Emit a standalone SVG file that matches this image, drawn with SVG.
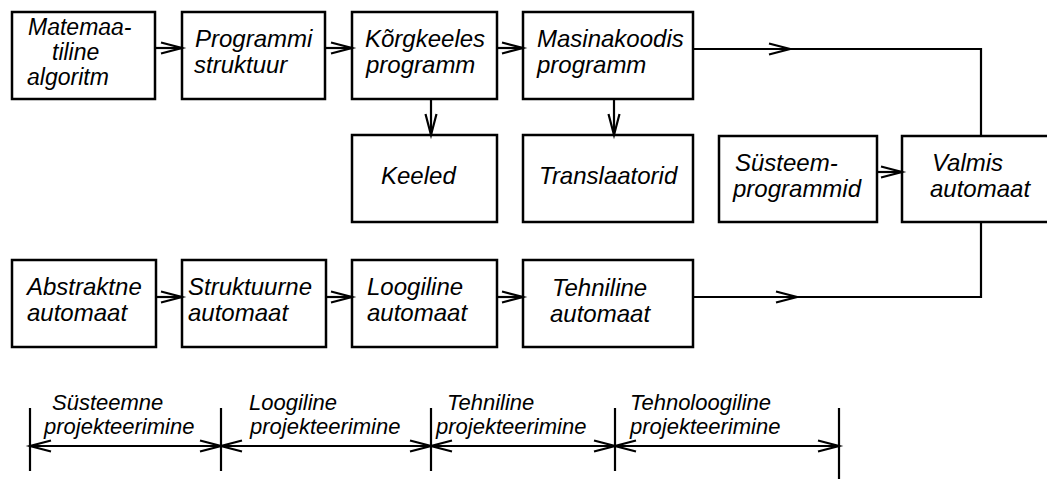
<svg xmlns="http://www.w3.org/2000/svg" width="1047" height="479" viewBox="0 0 1047 479">
<style>
.box{fill:#fff;stroke:#000;stroke-width:2.5}
.t{font-family:"Liberation Sans",Arial,sans-serif;font-style:italic;font-size:24px;fill:#000}
.t1{font-family:"Liberation Sans",Arial,sans-serif;font-style:italic;font-size:23px;fill:#000}
.s{font-family:"Liberation Sans",Arial,sans-serif;font-style:italic;font-size:22px;fill:#000}
.c{fill:none;stroke:#000;stroke-width:2.2}
</style>
<defs>
<marker id="a" markerUnits="userSpaceOnUse" markerWidth="30" markerHeight="16" viewBox="-24 -8 30 16" refX="0" refY="0" orient="auto" overflow="visible">
<path d="M-21,-5.5 L0,0 L-21,5.5" fill="none" stroke="#000" stroke-width="2.2"/>
</marker>
</defs>
<rect width="1047" height="479" fill="#fff"/>
<g id="n1"><rect class="box" x="12" y="12" width="143" height="87"/><text class="t1"><tspan x="28" y="35">Matemaa-</tspan><tspan x="52" y="60">tiline</tspan><tspan x="27" y="85">algoritm</tspan></text></g>
<g id="n2"><rect class="box" x="182" y="12" width="143" height="87"/><text class="t"><tspan x="195" y="47">Programmi</tspan><tspan x="194" y="73">struktuur</tspan></text></g>
<g id="n3"><rect class="box" x="352" y="12" width="145" height="87"/><text class="t"><tspan x="365" y="47">Kõrgkeeles</tspan><tspan x="366" y="73">programm</tspan></text></g>
<g id="n4"><rect class="box" x="523" y="12" width="170" height="87"/><text class="t"><tspan x="537" y="47">Masinakoodis</tspan><tspan x="537" y="73">programm</tspan></text></g>
<g id="n5"><rect class="box" x="352" y="135" width="145" height="87"/><text class="t" x="381" y="184">Keeled</text></g>
<g id="n6"><rect class="box" x="523" y="135" width="170" height="87"/><text class="t" x="539" y="184">Translaatorid</text></g>
<g id="n7"><rect class="box" x="719" y="136" width="158" height="86"/><text class="t"><tspan x="735" y="171">Süsteem-</tspan><tspan x="733" y="197">programmid</tspan></text></g>
<g id="n8"><rect class="box" x="902" y="136" width="150" height="86"/><text class="t"><tspan x="932" y="171">Valmis</tspan><tspan x="930" y="197">automaat</tspan></text></g>
<g id="n9"><rect class="box" x="12" y="260" width="144" height="87"/><text class="t"><tspan x="27" y="295">Abstraktne</tspan><tspan x="27" y="321">automaat</tspan></text></g>
<g id="n10"><rect class="box" x="182" y="260" width="144" height="87"/><text class="t"><tspan x="188" y="295">Struktuurne</tspan><tspan x="188" y="321">automaat</tspan></text></g>
<g id="n11"><rect class="box" x="352" y="260" width="145" height="87"/><text class="t"><tspan x="367" y="295">Loogiline</tspan><tspan x="367" y="321">automaat</tspan></text></g>
<g id="n12"><rect class="box" x="523" y="260" width="170" height="87"/><text class="t"><tspan x="552" y="296">Tehniline</tspan><tspan x="550" y="322">automaat</tspan></text></g>
<g id="connectors">
<line class="c" x1="155" y1="48" x2="182" y2="48" marker-end="url(#a)"/>
<line class="c" x1="325" y1="48" x2="352" y2="48" marker-end="url(#a)"/>
<line class="c" x1="497" y1="48" x2="523" y2="48" marker-end="url(#a)"/>
<line class="c" x1="693" y1="49" x2="790" y2="49" marker-end="url(#a)"/>
<polyline class="c" points="790,49 981,49 981,136"/>
<line class="c" x1="431" y1="99" x2="431" y2="135" marker-end="url(#a)"/>
<line class="c" x1="614" y1="99" x2="614" y2="135" marker-end="url(#a)"/>
<line class="c" x1="877" y1="172" x2="902" y2="172" marker-end="url(#a)"/>
<line class="c" x1="156" y1="297" x2="182" y2="297" marker-end="url(#a)"/>
<line class="c" x1="326" y1="297" x2="352" y2="297" marker-end="url(#a)"/>
<line class="c" x1="497" y1="297" x2="523" y2="297" marker-end="url(#a)"/>
<line class="c" x1="693" y1="297" x2="797" y2="297" marker-end="url(#a)"/>
<polyline class="c" points="797,297 981,297 981,222"/>
</g>
<g id="phases">
<line class="c" x1="30" y1="408" x2="30" y2="471"/>
<line class="c" x1="221" y1="408" x2="221" y2="471"/>
<line class="c" x1="431" y1="408" x2="431" y2="471"/>
<line class="c" x1="615" y1="408" x2="615" y2="471"/>
<line class="c" x1="839" y1="408" x2="839" y2="479"/>
<line class="c" x1="221" y1="446" x2="30" y2="446" marker-end="url(#a)"/>
<line class="c" x1="30" y1="446" x2="221" y2="446" marker-end="url(#a)"/>
<line class="c" x1="431" y1="446" x2="221" y2="446" marker-end="url(#a)"/>
<line class="c" x1="221" y1="446" x2="431" y2="446" marker-end="url(#a)"/>
<line class="c" x1="615" y1="446" x2="431" y2="446" marker-end="url(#a)"/>
<line class="c" x1="431" y1="446" x2="615" y2="446" marker-end="url(#a)"/>
<line class="c" x1="839" y1="446" x2="615" y2="446" marker-end="url(#a)"/>
<line class="c" x1="615" y1="446" x2="839" y2="446" marker-end="url(#a)"/>
<text class="s"><tspan x="52" y="410">Süsteemne</tspan><tspan x="44" y="434">projekteerimine</tspan></text>
<text class="s"><tspan x="249" y="410">Loogiline</tspan><tspan x="250" y="434">projekteerimine</tspan></text>
<text class="s"><tspan x="447" y="410">Tehniline</tspan><tspan x="436" y="434">projekteerimine</tspan></text>
<text class="s"><tspan x="630" y="410">Tehnoloogiline</tspan><tspan x="630" y="434">projekteerimine</tspan></text>
</g>
</svg>
